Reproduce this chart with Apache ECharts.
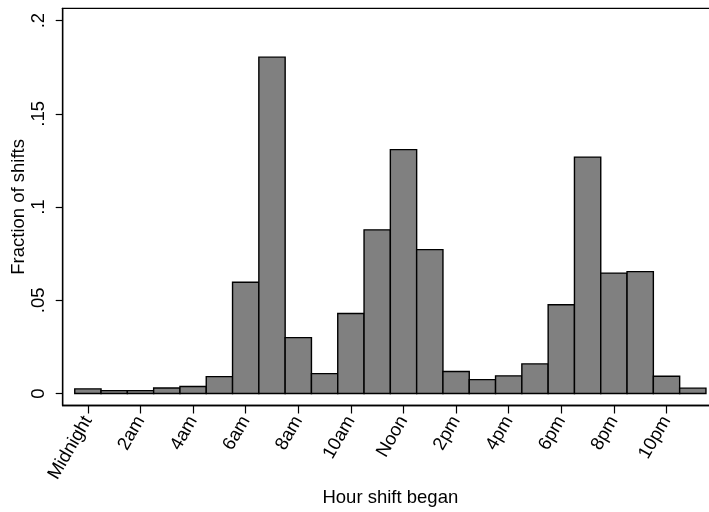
<!DOCTYPE html>
<html>
<head>
<meta charset="utf-8">
<script src="https://cdn.jsdelivr.net/npm/echarts@6/dist/echarts.min.js"></script>
<style>
	html, body { margin: 0; padding: 0; background: #fff; }
	#chart { width: 709px; height: 512px; }
</style>
</head>
<body>
<div id="chart"></div>
<script>
// hour the shift began (bin centre) and fraction of shifts
var hours = [0, 1, 2, 3, 4, 5, 6, 7, 8, 9, 10, 11, 12, 13, 14, 15, 16, 17, 18, 19, 20, 21, 22, 23];
var fractions = [0.0025, 0.0016, 0.0016, 0.0030, 0.0038, 0.0091, 0.0597, 0.1804, 0.0300, 0.0107, 0.0429, 0.0878,
	0.1308, 0.0772, 0.0118, 0.0075, 0.0095, 0.0159, 0.0476, 0.1268, 0.0646, 0.0654, 0.0093, 0.0029];

var xTickValues = [0, 2, 4, 6, 8, 10, 12, 14, 16, 18, 20, 22];
var xTickLabels = ['Midnight', '2am', '4am', '6am', '8am', '10am', 'Noon', '2pm', '4pm', '6pm', '8pm', '10pm'];
var yTickValues = [0, 0.05, 0.1, 0.15, 0.2];
var yTickLabels = ['0', '.05', '.1', '.15', '.2'];

(function() {
	function createChart() {
		var dom = document.getElementById("chart");
		var myChart = echarts.init(dom);
		var font = 'Liberation Sans';

		var data = [];
		for (var i = 0; i < hours.length; i++) {
			data.push([hours[i], fractions[i]]);
		}

		var option = {
			animation: false,
			backgroundColor: '#fff',
			grid: {
				left: 62.7,
				right: -9,
				top: 8.3,
				bottom: 106.5,
				containLabel: false,
				outerBoundsMode: 'none',
				show: true,
				borderColor: '#000',
				borderWidth: 1.3,
				backgroundColor: '#fff'
			},
			xAxis: {
				type: 'value',
				min: -0.958,
				max: 23.958,
				name: 'Hour shift began',
				nameLocation: 'middle',
				nameGap: 83,
				nameMoveOverlap: false,
				nameTextStyle: { fontFamily: font, fontSize: 18.5, color: '#000' },
				axisLine: { show: true, onZero: false, lineStyle: { color: '#000', width: 1.3 } },
				axisTick: {
					show: true,
					length: 8,
					customValues: xTickValues,
					lineStyle: { color: '#000', width: 1.2 }
				},
				axisLabel: {
					customValues: xTickValues,
					rotate: 60,
					margin: 12,
					fontFamily: font,
					fontSize: 18.5,
					color: '#000',
					formatter: function(v) {
						var k = xTickValues.indexOf(Math.round(v));
						return k >= 0 ? xTickLabels[k] : '';
					}
				},
				splitLine: { show: false }
			},
			yAxis: {
				type: 'value',
				min: -0.0064,
				max: 0.2066,
				name: 'Fraction of shifts',
				nameLocation: 'middle',
				nameGap: 34,
				nameMoveOverlap: false,
				nameTextStyle: { fontFamily: font, fontSize: 18.5, color: '#000' },
				axisLine: { show: true, onZero: false, lineStyle: { color: '#000', width: 1.3 } },
				axisTick: {
					show: true,
					length: 7,
					customValues: yTickValues,
					lineStyle: { color: '#000', width: 1.2 }
				},
				axisLabel: {
					customValues: yTickValues,
					rotate: 90,
					margin: 14,
					fontFamily: font,
					fontSize: 18.5,
					color: '#000',
					formatter: function(v) {
						for (var k = 0; k < yTickValues.length; k++) {
							if (Math.abs(yTickValues[k] - v) < 1e-6) return yTickLabels[k];
						}
						return '';
					}
				},
				splitLine: { show: false }
			},
			series: [{
				type: 'custom',
				data: data,
				renderItem: function(params, api) {
					var hr = api.value(0);
					var topLeft = api.coord([hr - 0.5, api.value(1)]);
					var bottomRight = api.coord([hr + 0.5, 0]);
					return {
						type: 'rect',
						shape: {
							x: topLeft[0],
							y: topLeft[1],
							width: bottomRight[0] - topLeft[0],
							height: bottomRight[1] - topLeft[1]
						},
						style: { fill: '#808080', stroke: '#000', lineWidth: 1.4 }
					};
				}
			}]
		};

		myChart.setOption(option, true);
	}
	createChart();
})();
</script>
</body>
</html>
